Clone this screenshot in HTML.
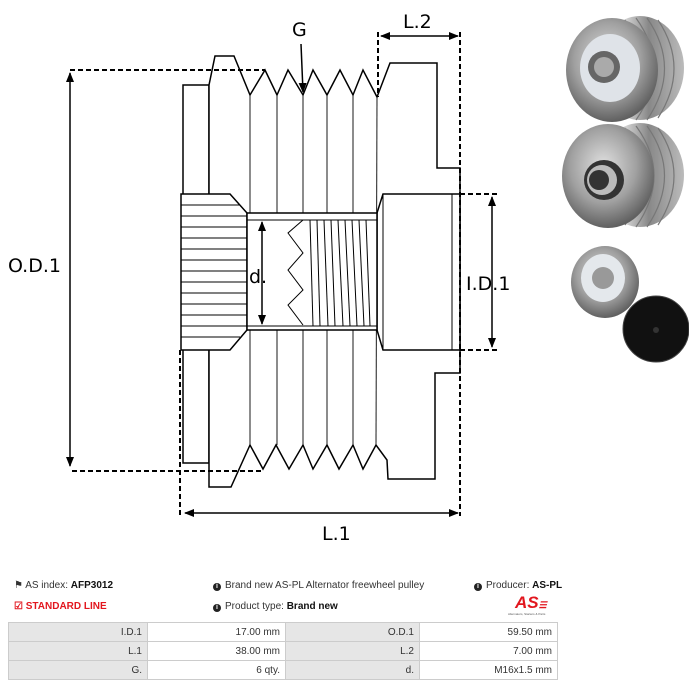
<!DOCTYPE html>
<html><head><meta charset="utf-8"><style>
body{margin:0;width:689px;height:692px;background:#fff;position:relative;overflow:hidden;font-family:"Liberation Sans",Arial,sans-serif;}
.t{position:absolute;font-size:10px;color:#333;white-space:nowrap}
b{color:#111}
table{position:absolute;left:8px;top:622px;border-collapse:collapse;font-size:10px;color:#333}
td{border:1px solid #ccc;height:19px;padding:0 5px;text-align:right;box-sizing:border-box}
td.g{background:#e6e6e6}
.i{display:inline-block;width:8px;height:8px;border-radius:50%;background:#222;color:#fff;font-size:7px;line-height:8px;text-align:center;font-weight:bold;vertical-align:0px;margin-right:4px}
</style></head><body>
<svg width="689" height="560" style="position:absolute;left:0;top:0" font-family="'DejaVu Sans',sans-serif">
<defs>
<marker id="a" markerWidth="10" markerHeight="10" refX="9" refY="4" orient="auto" markerUnits="userSpaceOnUse"><path d="M0,0 L10,4 L0,8 z" fill="#000"/></marker>
<radialGradient id="m" cx="45%" cy="40%" r="60%"><stop offset="0" stop-color="#e0e0e0"/><stop offset=".6" stop-color="#a0a0a0"/><stop offset="1" stop-color="#606060"/></radialGradient>
<linearGradient id="s" x1="0" x2="1"><stop offset="0" stop-color="#666"/><stop offset=".3" stop-color="#ddd"/><stop offset=".6" stop-color="#888"/><stop offset="1" stop-color="#bbb"/></linearGradient>
</defs>
<g fill="none" stroke="#000" stroke-width="1.5">
<rect x="183" y="85" width="26" height="378" fill="#fff"/>
<path fill="#fff" d="M209,85 L215,56 L234,56 L250,95 L265,70 L277,95 L288,70 L303,95 L313,70 L327,95 L340,70 L353,95 L363,70 L377,97 L390,63 L437,63 L437,168 L460,168 L460,373 L435,373 L435,479 L388,479 L387,460 L376,445 L363,469 L353,445 L339,469 L327,445 L313,469 L303,445 L289,469 L276,445 L263,469 L250,445 L231,487 L209,487 Z"/>
</g>
<g stroke="#000" stroke-width="0.9">
<line x1="250" y1="95" x2="250" y2="445"/><line x1="277" y1="95" x2="277" y2="445"/><line x1="303" y1="95" x2="303" y2="445"/><line x1="327" y1="95" x2="327" y2="445"/><line x1="353" y1="95" x2="353" y2="445"/><line x1="377" y1="97" x2="376" y2="445"/>
</g>
<g fill="#fff" stroke="#000" stroke-width="1.5">
<path d="M181,194 L230,194 L247,213 L247,330 L230,350 L181,350 Z"/>
<path d="M377,213 L383,194 L460,194 L460,350 L383,350 L377,330 Z"/>
<rect x="247" y="213" width="130" height="117"/>
</g>
<g stroke="#000" stroke-width="1">
<line x1="247" y1="220" x2="377" y2="220"/><line x1="247" y1="326" x2="377" y2="326"/>
<line x1="383" y1="194" x2="383" y2="350"/><line x1="452" y1="194" x2="452" y2="350"/>
<line x1="181" y1="205" x2="240" y2="205"/><line x1="181" y1="216" x2="247" y2="216"/><line x1="181" y1="227" x2="247" y2="227"/><line x1="181" y1="238" x2="247" y2="238"/><line x1="181" y1="249" x2="247" y2="249"/><line x1="181" y1="260" x2="247" y2="260"/><line x1="181" y1="271" x2="247" y2="271"/><line x1="181" y1="282" x2="247" y2="282"/><line x1="181" y1="293" x2="247" y2="293"/><line x1="181" y1="304" x2="247" y2="304"/><line x1="181" y1="315" x2="247" y2="315"/><line x1="181" y1="326" x2="247" y2="326"/><line x1="181" y1="337" x2="240" y2="337"/>
<path fill="none" d="M303,220 L288,233 L303,253 L288,270 L303,290 L288,305 L303,325"/>
<line x1="310" y1="220" x2="313" y2="326"/><line x1="317" y1="220" x2="320" y2="326"/><line x1="324" y1="220" x2="328" y2="326"/><line x1="331" y1="220" x2="335" y2="326"/><line x1="338" y1="220" x2="343" y2="326"/><line x1="345" y1="220" x2="350" y2="326"/><line x1="352" y1="220" x2="357" y2="326"/><line x1="359" y1="220" x2="364" y2="326"/><line x1="366" y1="220" x2="370" y2="326"/>
</g>
<g stroke="#000" stroke-width="2" stroke-dasharray="5,3" fill="none">
<line x1="70" y1="70" x2="265" y2="70"/><line x1="72" y1="471" x2="262" y2="471"/>
<line x1="180" y1="350" x2="180" y2="516"/><line x1="460" y1="32" x2="460" y2="516"/>
<line x1="378" y1="32" x2="378" y2="97"/>
<line x1="460" y1="194" x2="497" y2="194"/><line x1="460" y1="350" x2="497" y2="350"/>
</g>
<g stroke="#000" stroke-width="1.5">
<line x1="70" y1="268" x2="70" y2="73" marker-end="url(#a)"/><line x1="70" y1="268" x2="70" y2="466" marker-end="url(#a)"/>
<line x1="320" y1="513" x2="185" y2="513" marker-end="url(#a)"/><line x1="320" y1="513" x2="458" y2="513" marker-end="url(#a)"/>
<line x1="420" y1="36" x2="381" y2="36" marker-end="url(#a)"/><line x1="420" y1="36" x2="458" y2="36" marker-end="url(#a)"/>
<line x1="492" y1="272" x2="492" y2="197" marker-end="url(#a)"/><line x1="492" y1="272" x2="492" y2="347" marker-end="url(#a)"/>
<line x1="262" y1="272" x2="262" y2="222" marker-end="url(#a)"/><line x1="262" y1="272" x2="262" y2="324" marker-end="url(#a)"/>
<line x1="301" y1="44" x2="303" y2="92" marker-end="url(#a)"/>
</g>
<g font-size="19" fill="#000">
<text x="8" y="272">O.D.1</text>
<text x="466" y="290">I.D.1</text>
<text x="322" y="540">L.1</text>
<text x="403" y="28">L.2</text>
<text x="292" y="36">G</text>
<text x="249" y="283">d.</text>
</g>
<!-- photos -->
<ellipse cx="640" cy="68" rx="44" ry="52" fill="url(#s)"/>
<g stroke="#777" stroke-width="1.2" fill="none">
<path d="M625,20 Q660,68 625,118"/><path d="M636,18 Q672,68 636,120"/><path d="M647,18 Q682,68 647,120"/><path d="M658,20 Q690,68 658,118"/>
</g>
<ellipse cx="612" cy="70" rx="46" ry="52" fill="url(#m)"/>
<ellipse cx="610" cy="68" rx="30" ry="34" fill="#dfe3e8"/>
<circle cx="604" cy="67" r="16" fill="#666"/><circle cx="604" cy="67" r="10" fill="#aaa"/>
<ellipse cx="640" cy="175" rx="44" ry="52" fill="url(#s)"/>
<g stroke="#777" stroke-width="1.2" fill="none">
<path d="M625,128 Q660,175 625,225"/><path d="M636,126 Q672,175 636,227"/><path d="M647,126 Q682,175 647,227"/><path d="M658,128 Q690,175 658,225"/>
</g>
<ellipse cx="608" cy="176" rx="46" ry="52" fill="url(#m)"/>
<circle cx="604" cy="180" r="20" fill="#333"/><circle cx="602" cy="180" r="15" fill="#bbb"/><circle cx="599" cy="180" r="10" fill="#333"/>
<ellipse cx="605" cy="282" rx="34" ry="36" fill="url(#m)"/>
<ellipse cx="603" cy="278" rx="22" ry="24" fill="#e4e8ec"/>
<circle cx="603" cy="278" r="11" fill="#999"/>
<circle cx="656" cy="329" r="33" fill="#111" stroke="#444" stroke-width="1"/>
<circle cx="656" cy="330" r="3" fill="#333"/>
</svg>
<div class="t" style="left:14px;top:580px">&#9873; AS index: <b>AFP3012</b></div>
<div class="t" style="left:14px;top:601px;color:#e2161e;font-weight:bold">&#9745; STANDARD LINE</div>
<div class="t" style="left:213px;top:580px"><span class="i">i</span>Brand new AS-PL Alternator freewheel pulley</div>
<div class="t" style="left:213px;top:601px"><span class="i">i</span>Product type: <b>Brand new</b></div>
<div class="t" style="left:474px;top:580px"><span class="i">i</span>Producer: <b>AS-PL</b></div>
<div class="t" style="left:515px;top:593px;color:#e2161e;font-weight:bold;font-style:italic;font-size:17px">AS<span style="font-size:9px">&#9776;</span></div>
<div class="t" style="left:508px;top:612px;font-size:3px;color:#555">Alternators, Starters &amp; Parts</div>
<table>
<tr><td class="g" style="width:139px">I.D.1</td><td style="width:138px">17.00 mm</td><td class="g" style="width:134px">O.D.1</td><td style="width:138px">59.50 mm</td></tr>
<tr><td class="g">L.1</td><td>38.00 mm</td><td class="g">L.2</td><td>7.00 mm</td></tr>
<tr><td class="g">G.</td><td>6 qty.</td><td class="g">d.</td><td>M16x1.5 mm</td></tr>
</table>
</body></html>
